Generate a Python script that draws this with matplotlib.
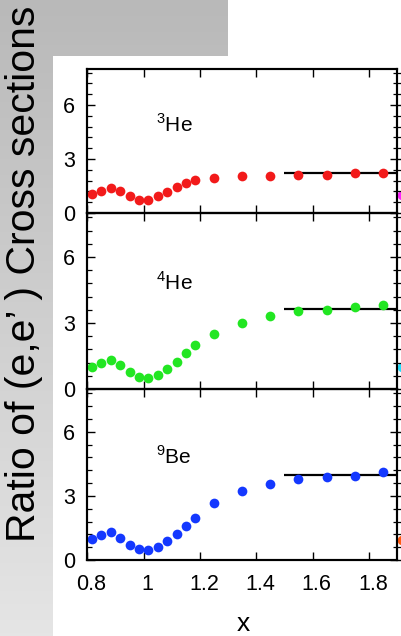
import numpy as np
import matplotlib
matplotlib.use('Agg')
import matplotlib.pyplot as plt
from matplotlib.ticker import MultipleLocator, FixedLocator, FuncFormatter
from matplotlib.transforms import ScaledTranslation

plt.rcParams['font.family'] = ['Liberation Sans', 'DejaVu Sans']
plt.rcParams['mathtext.fontset'] = 'custom'
plt.rcParams['mathtext.rm'] = 'Liberation Sans'

# data
x = [0.817, 0.85, 0.883, 0.917, 0.95, 0.983, 1.017, 1.05, 1.083, 1.117,
     1.15, 1.183, 1.25, 1.35, 1.45, 1.55, 1.65, 1.75, 1.85]
he3 = [1.05, 1.24, 1.37, 1.24, 0.94, 0.75, 0.75, 0.92, 1.17, 1.45,
       1.69, 1.86, 1.94, 2.05, 2.07, 2.11, 2.11, 2.22, 2.24]
he4 = [1.01, 1.20, 1.30, 1.11, 0.76, 0.53, 0.52, 0.64, 0.89, 1.24,
       1.65, 2.02, 2.52, 3.02, 3.32, 3.55, 3.58, 3.71, 3.83]
be9 = [1.00, 1.18, 1.30, 1.05, 0.69, 0.51, 0.49, 0.61, 0.89, 1.20,
       1.61, 1.98, 2.69, 3.23, 3.55, 3.81, 3.90, 3.95, 4.12]
plateau = [2.20, 3.64, 3.98]
nuclei = [r'$^{3}$He', r'$^{4}$He', r'$^{9}$Be']
colors = ['#f21a1a', '#22e622', '#1438ff']
# points of the next panel, cut at the right edge
edge_y = [1.0, 1.0, 0.92]
edge_colors = ['#ff22ff', '#22e0ff', '#ff5a10']

W, H = 402, 636
fig = plt.figure(figsize=(W / 100, H / 100), dpi=100)

# gray background panel (gradient), white page on top
bg = fig.add_axes([0, 0, 1, 1], zorder=-10)
bg.set_xlim(0, W)
bg.set_ylim(H, 0)
bg.axis('off')
grad = np.linspace(185, 229, 200).reshape(-1, 1) / 255.0
bg.imshow(np.dstack([grad, grad, grad]), extent=[0, W, H, 0], aspect='auto')
bg.add_patch(plt.Rectangle((53, 56), W - 53, H - 56, color='white', lw=0))
bg.add_patch(plt.Rectangle((228, 0), W - 228, 57, color='white', lw=0))

left = 87.3 / W
width = (397 - 87.3) / W
panels = [(69, 213), (213, 389), (389, 560)]
series = [he3, he4, be9]

for i, (top, bot) in enumerate(panels):
    ax = fig.add_axes([left, 1 - bot / H, width, (bot - top) / H])
    ax.set_facecolor('none')
    ax.plot(x, series[i], 'o', color=colors[i], ms=7, mec='none', zorder=3)
    ax.hlines(plateau[i], 1.5, 1.9, color='black', lw=1.6, zorder=2)
    ax.plot([1.918], [edge_y[i]], 'o', color=edge_colors[i], ms=7,
            mec='none', clip_on=False, zorder=4)
    ax.text(1.045, 4.5, nuclei[i], fontsize=15, ha='left', va='baseline')
    ax.set_xlim(0.8, 1.9)
    ax.set_ylim(0, 8)
    ax.xaxis.set_major_locator(FixedLocator([0.8, 1.0, 1.2, 1.4, 1.6, 1.8]))
    ax.xaxis.set_major_formatter(FuncFormatter(lambda v, p: f'{v:g}'))
    ax.yaxis.set_major_locator(FixedLocator([0, 3, 6]))
    ax.yaxis.set_minor_locator(MultipleLocator(0.6))
    for s in ax.spines.values():
        s.set_linewidth(1.5)
    ax.tick_params(axis='x', which='major', direction='in', top=True,
                   bottom=True, length=5.5, width=1.0, labelsize=15.5, pad=10,
                   labelbottom=(i == 2))
    ax.tick_params(axis='y', which='major', direction='in', right=False,
                   length=5.5, width=1.0, labelsize=15.5, pad=9)
    ax.tick_params(axis='y', which='minor', direction='in', right=False,
                   length=3.5, width=0.9)
    if i == 2:
        for lab in ax.get_xticklabels():
            lab.set_transform(lab.get_transform() +
                              ScaledTranslation(0.04, 0, fig.dpi_scale_trans))
    # right side ticks cross the spine
    ax2 = ax.twinx()
    ax2.set_ylim(0, 8)
    ax2.yaxis.set_major_locator(FixedLocator([0, 3, 6]))
    ax2.yaxis.set_minor_locator(MultipleLocator(0.6))
    ax2.tick_params(axis='y', which='major', direction='inout', length=10,
                    width=1.0, labelright=False)
    ax2.tick_params(axis='y', which='minor', direction='inout', length=6,
                    width=0.9)
    for s in ax2.spines.values():
        s.set_linewidth(1.5)

fig.text(243 / W, 1 - 624 / H, 'x', fontsize=19, ha='center', va='center')
fig.text(24 / W, 1 - 274 / H, 'Ratio of (e,e\u2019 ) Cross sections',
         fontsize=29.5, rotation=90, ha='center', va='center')

fig.savefig('out.png', dpi=100)
